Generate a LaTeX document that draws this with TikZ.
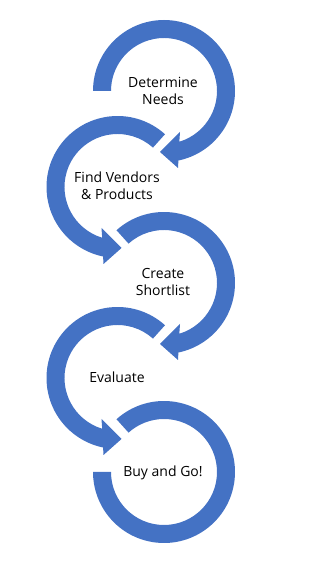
\documentclass[tikz,border=0pt]{standalone}
\usepackage{fontspec}
\setmainfont{Open Sans}
\usetikzlibrary{calc}
\definecolor{ringblue}{RGB}{68,114,196}
\tikzset{
  ringfill/.style={fill=ringblue},
  steplabel/.style={align=center, inner sep=0pt, font=\fontsize{10.5}{12.6}\selectfont, text=black}
}
% clockwise ring, arrow at bottom pointing left
\newcommand{\RingCW}[2]{%
  \fill[ringfill] ($(#1)+(#2:71)$) arc[start angle=#2, end angle=-78.3, radius=71]
    -- ($(#1)+(14,-77)$) -- ($(#1)+(-4,-61)$) -- ($(#1)+(16,-41)$)
    -- ($(#1)+(-73.2:53)$) arc[start angle=-73.2, end angle=#2, radius=53] -- cycle;}
% counter-clockwise ring, arrow at bottom pointing right
\newcommand{\RingCCW}[2]{%
  \fill[ringfill] ($(#1)+(#2:71)$) arc[start angle=#2, end angle=258.3, radius=71]
    -- ($(#1)+(-14,-77)$) -- ($(#1)+(4,-61)$) -- ($(#1)+(-16,-41)$)
    -- ($(#1)+(253.2:53)$) arc[start angle=253.2, end angle=#2, radius=53] -- cycle;}
\begin{document}
\begin{tikzpicture}[x=0.75pt,y=0.75pt]
\useasboundingbox (0,0) rectangle (326,562);
\coordinate (c1) at (164,471);
\coordinate (c2) at (117.5,375);
\coordinate (c3) at (164,279);
\coordinate (c4) at (117.5,184);
\coordinate (c5) at (164,90);
\RingCW{c1}{180}
\RingCCW{c2}{48}
\RingCW{c3}{132}
\RingCCW{c4}{48}
\fill[ringfill] ($(c5)+(132:71)$) arc[start angle=132, end angle=-180, radius=71]
  -- ($(c5)+(-180:53)$) arc[start angle=-180, end angle=132, radius=53] -- cycle;
\node[steplabel] (t1) at (163,471) {Determine\\Needs};
\node[steplabel] (t2) at (117,376) {Find Vendors\\\&\ Products};
\node[steplabel] (t3) at (163,280) {Create\\Shortlist};
\node[steplabel] (t4) at (117,185) {Evaluate};
\node[steplabel] (t5) at (163,89) {Buy and Go!};
\end{tikzpicture}
\end{document}
